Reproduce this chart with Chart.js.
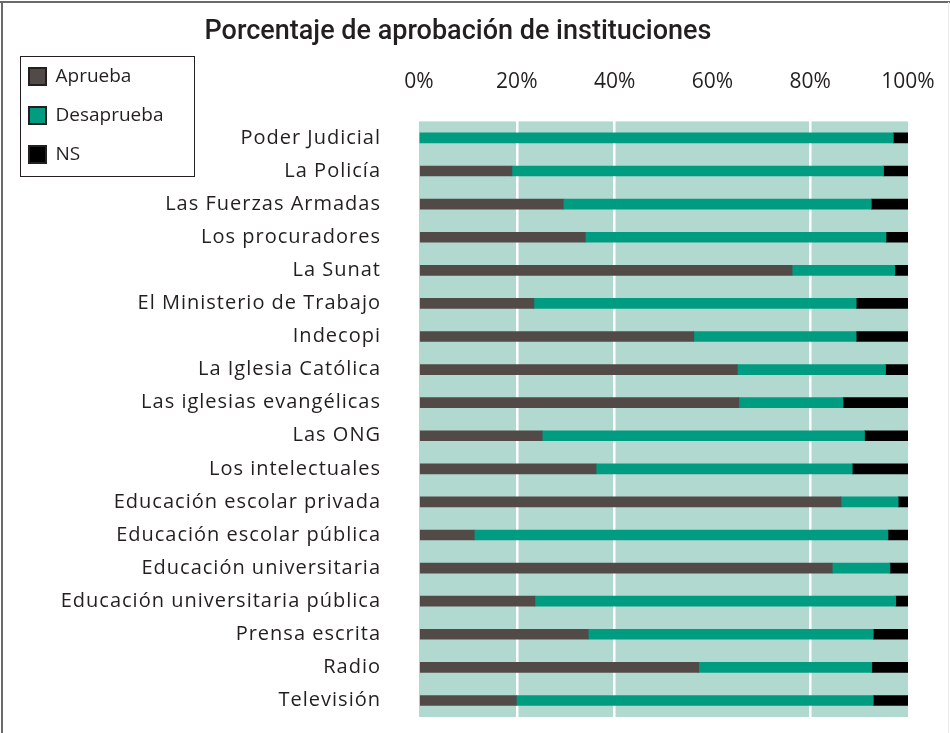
<!DOCTYPE html>
<html>
<head>
<meta charset="utf-8">
<script src="https://cdn.jsdelivr.net/npm/chart.js@4.4.1/dist/chart.umd.min.js"></script>
<style>
  html, body { margin: 0; padding: 0; background: #fff; }
  #wrap { width: 950px; height: 733px; }
</style>
</head>
<body>
<div id="wrap"><canvas id="approvalChart" width="950" height="733"></canvas></div>
<script>
// categories (top to bottom)
const institutions = [
  'Poder Judicial', 'La Policía', 'Las Fuerzas Armadas', 'Los procuradores', 'La Sunat',
  'El Ministerio de Trabajo', 'Indecopi', 'La Iglesia Católica', 'Las iglesias evangélicas',
  'Las ONG', 'Los intelectuales', 'Educación escolar privada', 'Educación escolar pública',
  'Educación universitaria', 'Educación universitaria pública', 'Prensa escrita', 'Radio', 'Televisión'
];

// percentages
const aprueba    = [0, 19, 29.5, 34, 76.3, 23.5, 56.2, 65.1, 65.4, 25.2, 36.2, 86.3, 11.3, 84.5, 23.7, 34.6, 57.2, 19.9];
const desaprueba = [97, 76, 63, 61.5, 21, 65.9, 33.2, 30.3, 21.3, 65.9, 52.4, 11.7, 84.6, 11.8, 73.8, 58.3, 35.4, 73];
const ns         = [3, 5, 7.5, 4.5, 2.7, 10.6, 10.6, 4.6, 13.3, 8.9, 11.4, 2, 4.1, 3.7, 2.5, 7.1, 7.4, 7.1];

const pctTicks = [0, 20, 40, 60, 80, 100];
const whiteLines = [20, 40, 80]; // the reference has no line at 60%

const labelFont = "'Open Sans', 'Noto Sans', sans-serif";

// plot background, frame, legend box and letter spacing for the category labels
const decorPlugin = {
  id: 'decor',
  afterLayout(chart) {
    const lg = chart.legend;
    lg.left = 9; lg.top = 47; lg.right = 194; lg.bottom = 400;
    chart.titleBlock.right = 916;
  },
  beforeDraw(chart) {
    const {ctx, chartArea: a} = chart;
    ctx.letterSpacing = '0px';
    ctx.save();
    ctx.fillStyle = '#b2d9d0';
    ctx.fillRect(a.left, a.top, a.right - a.left, a.bottom - a.top);
    ctx.restore();
  },
  beforeDatasetsDraw(chart) {
    chart.ctx.letterSpacing = '1px';
  },
  afterDraw(chart) {
    const ctx = chart.ctx;
    ctx.save();
    ctx.letterSpacing = '0px';
    ctx.strokeStyle = '#231f20';
    ctx.lineWidth = 1;
    ctx.strokeRect(20.5, 56.5, 174, 120);
    ctx.strokeStyle = '#6a6a6a';
    ctx.lineWidth = 2;
    ctx.beginPath();
    ctx.moveTo(0, 2); ctx.lineTo(950, 2);
    ctx.moveTo(2, 2); ctx.lineTo(2, 733);
    ctx.stroke();
    ctx.strokeStyle = '#ececec';
    ctx.lineWidth = 1;
    ctx.beginPath();
    ctx.moveTo(948.5, 2); ctx.lineTo(948.5, 733);
    ctx.stroke();
    ctx.restore();
  }
};

new Chart(document.getElementById('approvalChart'), {
  type: 'bar',
  data: {
    labels: institutions,
    datasets: [
      { label: 'Aprueba', data: aprueba, backgroundColor: '#524a47' },
      { label: 'Desaprueba', data: desaprueba, backgroundColor: '#009c82' },
      { label: 'NS', data: ns, backgroundColor: '#000000' }
    ]
  },
  options: {
    indexAxis: 'y',
    responsive: false,
    animation: false,
    devicePixelRatio: 1,
    datasets: { bar: { barThickness: 10, borderWidth: 0 } },
    layout: { padding: { left: 0, right: 42, top: 0, bottom: 16 } },
    scales: {
      x: {
        position: 'top',
        stacked: true,
        min: 0,
        max: 100,
        afterBuildTicks: (scale) => { scale.ticks = pctTicks.map(v => ({ value: v })); },
        afterFit: (scale) => {
          scale.height = 73;
          scale.paddingLeft = 0;
          scale.paddingRight = 0;
        },
        ticks: {
          callback: (v) => v + '%',
          color: '#231f20',
          padding: 27,
          maxRotation: 0,
          font: { family: labelFont, size: 21 }
        },
        grid: {
          drawTicks: false,
          lineWidth: 2.5,
          color: (c) => whiteLines.includes(c.tick && c.tick.value) ? '#ffffff' : 'rgba(0,0,0,0)'
        },
        border: { display: false }
      },
      y: {
        stacked: true,
        afterFit: (scale) => {
          scale.width = 419;
          scale.paddingTop = 0;
          scale.paddingBottom = 0;
        },
        ticks: {
          color: '#231f20',
          padding: 30,
          z: 1,
          font: { family: labelFont, size: 20 }
        },
        grid: { display: false },
        border: { display: false }
      }
    },
    plugins: {
      title: {
        display: true,
        text: 'Porcentaje de aprobación de instituciones',
        color: '#231f20',
        padding: { top: 16, bottom: 0 },
        font: { family: "Roboto, sans-serif", size: 27, weight: '500' }
      },
      legend: {
        position: 'chartArea',
        align: 'start',
        labels: {
          color: '#231f20',
          boxWidth: 17,
          boxHeight: 17,
          padding: 20,
          font: { family: labelFont, size: 19 },
          generateLabels: (chart) => Chart.defaults.plugins.legend.labels.generateLabels(chart).map(item => {
            item.lineWidth = 2;
            item.strokeStyle = '#231f20';
            return item;
          })
        }
      },
      tooltip: { enabled: false }
    }
  },
  plugins: [decorPlugin]
});
</script>
</body>
</html>
